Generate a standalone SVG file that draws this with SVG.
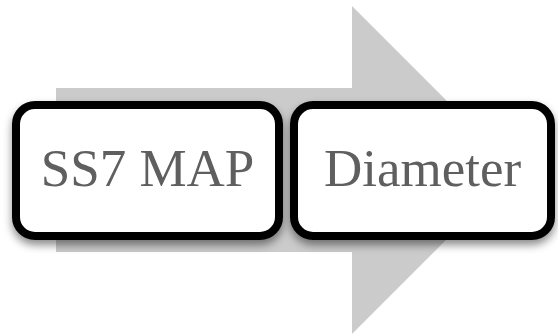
<svg xmlns="http://www.w3.org/2000/svg" width="558" height="334" viewBox="0 0 558 334">
  <defs>
    <filter id="softShadow" x="-10%" y="-10%" width="120%" height="130%">
      <feDropShadow dx="0" dy="5" stdDeviation="4" flood-color="#000" flood-opacity="0.45"/>
    </filter>
  </defs>
  <style>
    .flow { fill: #cbcbcb; }
    .box { fill: #ffffff; stroke: #000000; stroke-width: 8; filter: url(#softShadow); }
    .label { font-family: "Liberation Serif", "Times New Roman", serif; font-size: 53px; fill: #5f5f5f; text-anchor: middle; }
  </style>

  <!-- background process arrow -->
  <g id="connectors">
    <polygon class="flow" points="56,88 352,88 352,6 516,170 352,334 352,252 56,252"/>
  </g>

  <g id="node-ss7map">
    <rect class="box" x="16" y="105" width="263" height="131" rx="19" ry="19"/>
    <text class="label" x="147.5" y="186">SS7 MAP</text>
  </g>

  <g id="node-diameter">
    <rect class="box" x="294" y="105" width="257" height="131" rx="19" ry="19"/>
    <text class="label" x="422.5" y="186">Diameter</text>
  </g>
</svg>
